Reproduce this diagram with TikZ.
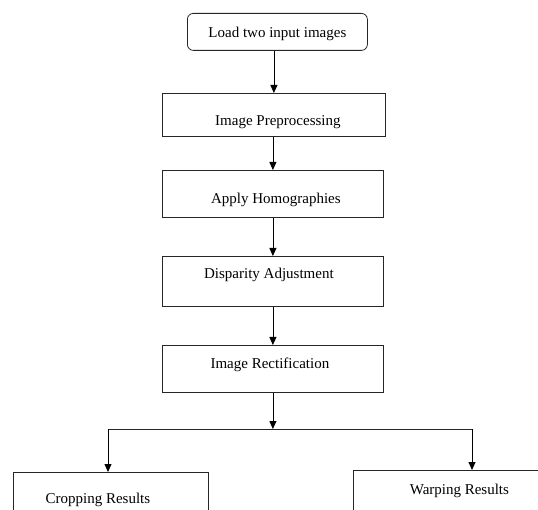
\documentclass[tikz,border=0pt]{standalone}
\usepackage{fontspec}
\setmainfont{Liberation Serif}
\usetikzlibrary{arrows.meta}
\tikzset{
  box/.style={draw=black!85, line width=0.8pt, inner sep=0pt, anchor=north west, font=\fontsize{15}{17}\selectfont},
  arr/.style={draw=black, line width=0.8pt, -{Triangle[length=8pt,width=7pt]}},
  ln/.style={draw=black!85, line width=0.8pt}
}
\begin{document}
\begin{tikzpicture}[x=1pt,y=-1pt]
\useasboundingbox (0,0) rectangle (538,510);
\fill[white] (0,0) rectangle (538,510);
\clip (0,0) rectangle (538,510);
\node[box, rounded corners=6pt, minimum width=180pt, text height=24pt, text depth=13pt] (b1) at (187,13) {Load two input images};
\node[box, minimum width=223pt, text height=32pt, text depth=11pt] (b2) at (162,93) {\hspace*{8pt}Image Preprocessing};
\node[box, minimum width=221pt, text height=33pt, text depth=14pt] (b3) at (162,170) {\hspace*{6pt}Apply Homographies};
\node[box, minimum width=221pt, text height=22pt, text depth=28pt] (b4) at (162,256) {\hspace*{-8pt}Disparity Adjustment};
\node[box, minimum width=221pt, text height=23pt, text depth=24pt] (b5) at (162,345) {\hspace*{-6pt}Image Rectification};
\node[box, minimum width=195pt, text height=31pt, text depth=40pt] (bl) at (13,472) {\hspace*{-26pt}Cropping Results};
\node[box, minimum width=212pt, text height=24pt, text depth=50pt] (br) at (353,470) {Warping Results};
\coordinate (split) at (272,429);
\coordinate (jl) at (108,429);
\coordinate (jr) at (472,429);
\draw[arr] (b2.north |- b1.south) -- (b2.north);
\draw[arr] (b3.north |- b2.south) -- (b3.north);
\draw[arr] (b4.north |- b3.south) -- (b4.north);
\draw[arr] (b5.north |- b4.south) -- (b5.north);
\draw[arr] (b5.south) -- (b5.south |- split);
\draw[ln] (jl) -- (jr);
\draw[arr] (jl) -- (jl |- bl.north);
\draw[arr] (jr) -- (jr |- br.north);
\end{tikzpicture}
\end{document}
